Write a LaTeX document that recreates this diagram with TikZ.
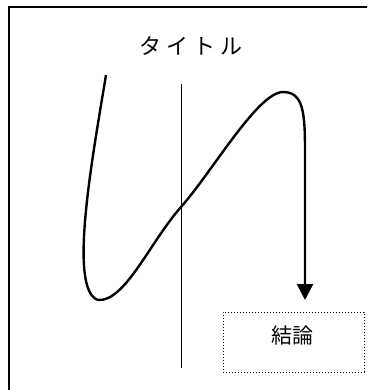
\documentclass[tikz,border=0pt]{standalone}
\usepackage{fontspec}
\newfontfamily\jpfont{Noto Sans CJK JP}
\usetikzlibrary{arrows.meta}
\begin{document}
\begin{tikzpicture}[x=1pt,y=-1pt]
        \useasboundingbox (0,0) rectangle (367,390);
        \clip (0,0) rectangle (367,390);
        \draw[line width=2pt] (9,7) rectangle (400,420);
        \node (title) at (191,46) {\jpfont\fontsize{22}{26}\selectfont タ\hspace{5pt}イ\hspace{5pt}ト\hspace{5pt}ル};
        \coordinate (top) at (181,84);
        \coordinate (bottom) at (181,368);
        \draw[line width=0.9pt] (top) -- (bottom);
        \node[draw,dotted,line width=1pt,minimum width=141pt,minimum height=60pt] (result) at (293.5,342) {};
        \node (resulttext) at (292,336) {\jpfont\fontsize{21}{24}\selectfont 結論};
        \coordinate (start) at (106,75);
        \coordinate (tip) at (305,300);
        \draw[line width=2.4pt,-{Triangle[width=16pt,length=16pt]}] (start)
            .. controls (92,160) and (68,290) .. (98,300)
            .. controls (125,302) and (150,242) .. (181,207)
            .. controls (212,172) and (258,92) .. (283,92)
            .. controls (303,92) and (305,112) .. (305,150)
            -- (tip);
\end{tikzpicture}
\end{document}
